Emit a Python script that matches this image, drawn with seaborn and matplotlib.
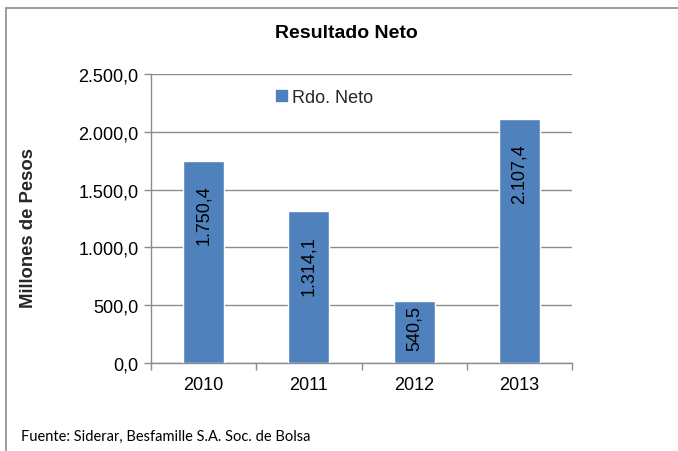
import matplotlib
matplotlib.use("Agg")
import matplotlib.pyplot as plt
import seaborn as sns
import pandas as pd
from matplotlib.ticker import FuncFormatter, FixedLocator
from matplotlib.patches import Patch
from matplotlib.lines import Line2D

years = ["2010", "2011", "2012", "2013"]
values = [1750.4, 1314.1, 540.5, 2107.4]
series_name = "Rdo. Neto"
title = "Resultado Neto"
ylabel = "Millones de Pesos"
source = "Fuente: Siderar, Besfamille S.A. Soc. de Bolsa"

def es_fmt(v, decimals=1):
    s = f"{v:,.{decimals}f}"
    return s.replace(",", "X").replace(".", ",").replace("X", ".")

sns.set_theme(style="white")
plt.rcParams["font.family"] = ["Liberation Sans", "DejaVu Sans"]

BLUE = "#4F81BD"
GRAY = "#8C8C8C"
FS = 13

fig = plt.figure(figsize=(6.78, 4.52), dpi=100)
ax = fig.add_axes([151 / 678, 1 - 364 / 452, 421 / 678, 289 / 452])

df = pd.DataFrame({"year": years, "value": values})
sns.barplot(data=df, x="year", y="value", color=BLUE, saturation=1,
            width=0.39, ax=ax, zorder=3)

ax.set_xlim(-0.5, 3.5)
ax.set_ylim(0, 2500)
ax.set_yticks([0, 500, 1000, 1500, 2000, 2500])
ax.yaxis.set_major_formatter(FuncFormatter(lambda v, p: es_fmt(v)))
ax.grid(axis="y", color=GRAY, linewidth=1.0, zorder=0)
ax.grid(axis="x", visible=False)
ax.set_axisbelow(True)

for s in ["top", "right"]:
    ax.spines[s].set_visible(False)
for s in ["left", "bottom"]:
    ax.spines[s].set_color(GRAY)
    ax.spines[s].set_linewidth(1.0)

ax.tick_params(axis="y", which="major", length=5, width=1, color=GRAY,
               direction="out", labelsize=FS, labelcolor="black", pad=4, left=True)
ax.tick_params(axis="x", which="major", length=0, labelsize=FS,
               labelcolor="black", pad=9)
ax.xaxis.set_minor_locator(FixedLocator([-0.5, 0.5, 1.5, 2.5, 3.5]))
ax.tick_params(axis="x", which="minor", length=5, width=1, color=GRAY,
               direction="out", bottom=True)

ax.set_xlabel("")
ax.set_ylabel(ylabel, fontsize=13.3, fontweight="bold")
ax.yaxis.set_label_coords(-0.271, 0.472)

# data labels
px_per_unit = 289 / 2500
for i, v in enumerate(values):
    bar_px = v * px_per_unit
    off_px = min(24, bar_px - 58)
    ax.annotate(es_fmt(v), xy=(i, v), xytext=(0, -off_px * 0.72),
                textcoords="offset points", rotation=90, ha="center",
                va="top", fontsize=FS, color="black", zorder=4)

# legend
handle = Patch(facecolor=BLUE, edgecolor=BLUE, label=series_name)
ax.legend(handles=[handle], loc="center left", bbox_to_anchor=(0.297, 0.92),
          frameon=False, fontsize=FS, handlelength=0.6, handleheight=0.6,
          handletextpad=0.3, borderpad=0, borderaxespad=0)

fig.text(346 / 678, 1 - 34 / 452, title, ha="center", va="center",
         fontsize=14, fontweight="bold", color="black")
fig.text(21 / 678, 1 - 437 / 452, source, ha="left", va="center",
         fontsize=10.5, color="black",
         family=["Liberation Sans Narrow", "Lato", "DejaVu Sans"])

# chart border (top and left visible)
fig.add_artist(Line2D([6 / 678, 1.0], [1 - 9 / 452, 1 - 9 / 452],
                      transform=fig.transFigure, color=GRAY, linewidth=1.2))
fig.add_artist(Line2D([6 / 678, 6 / 678], [0, 1 - 9 / 452],
                      transform=fig.transFigure, color=GRAY, linewidth=1.2))

fig.savefig("out.png", dpi=100)
